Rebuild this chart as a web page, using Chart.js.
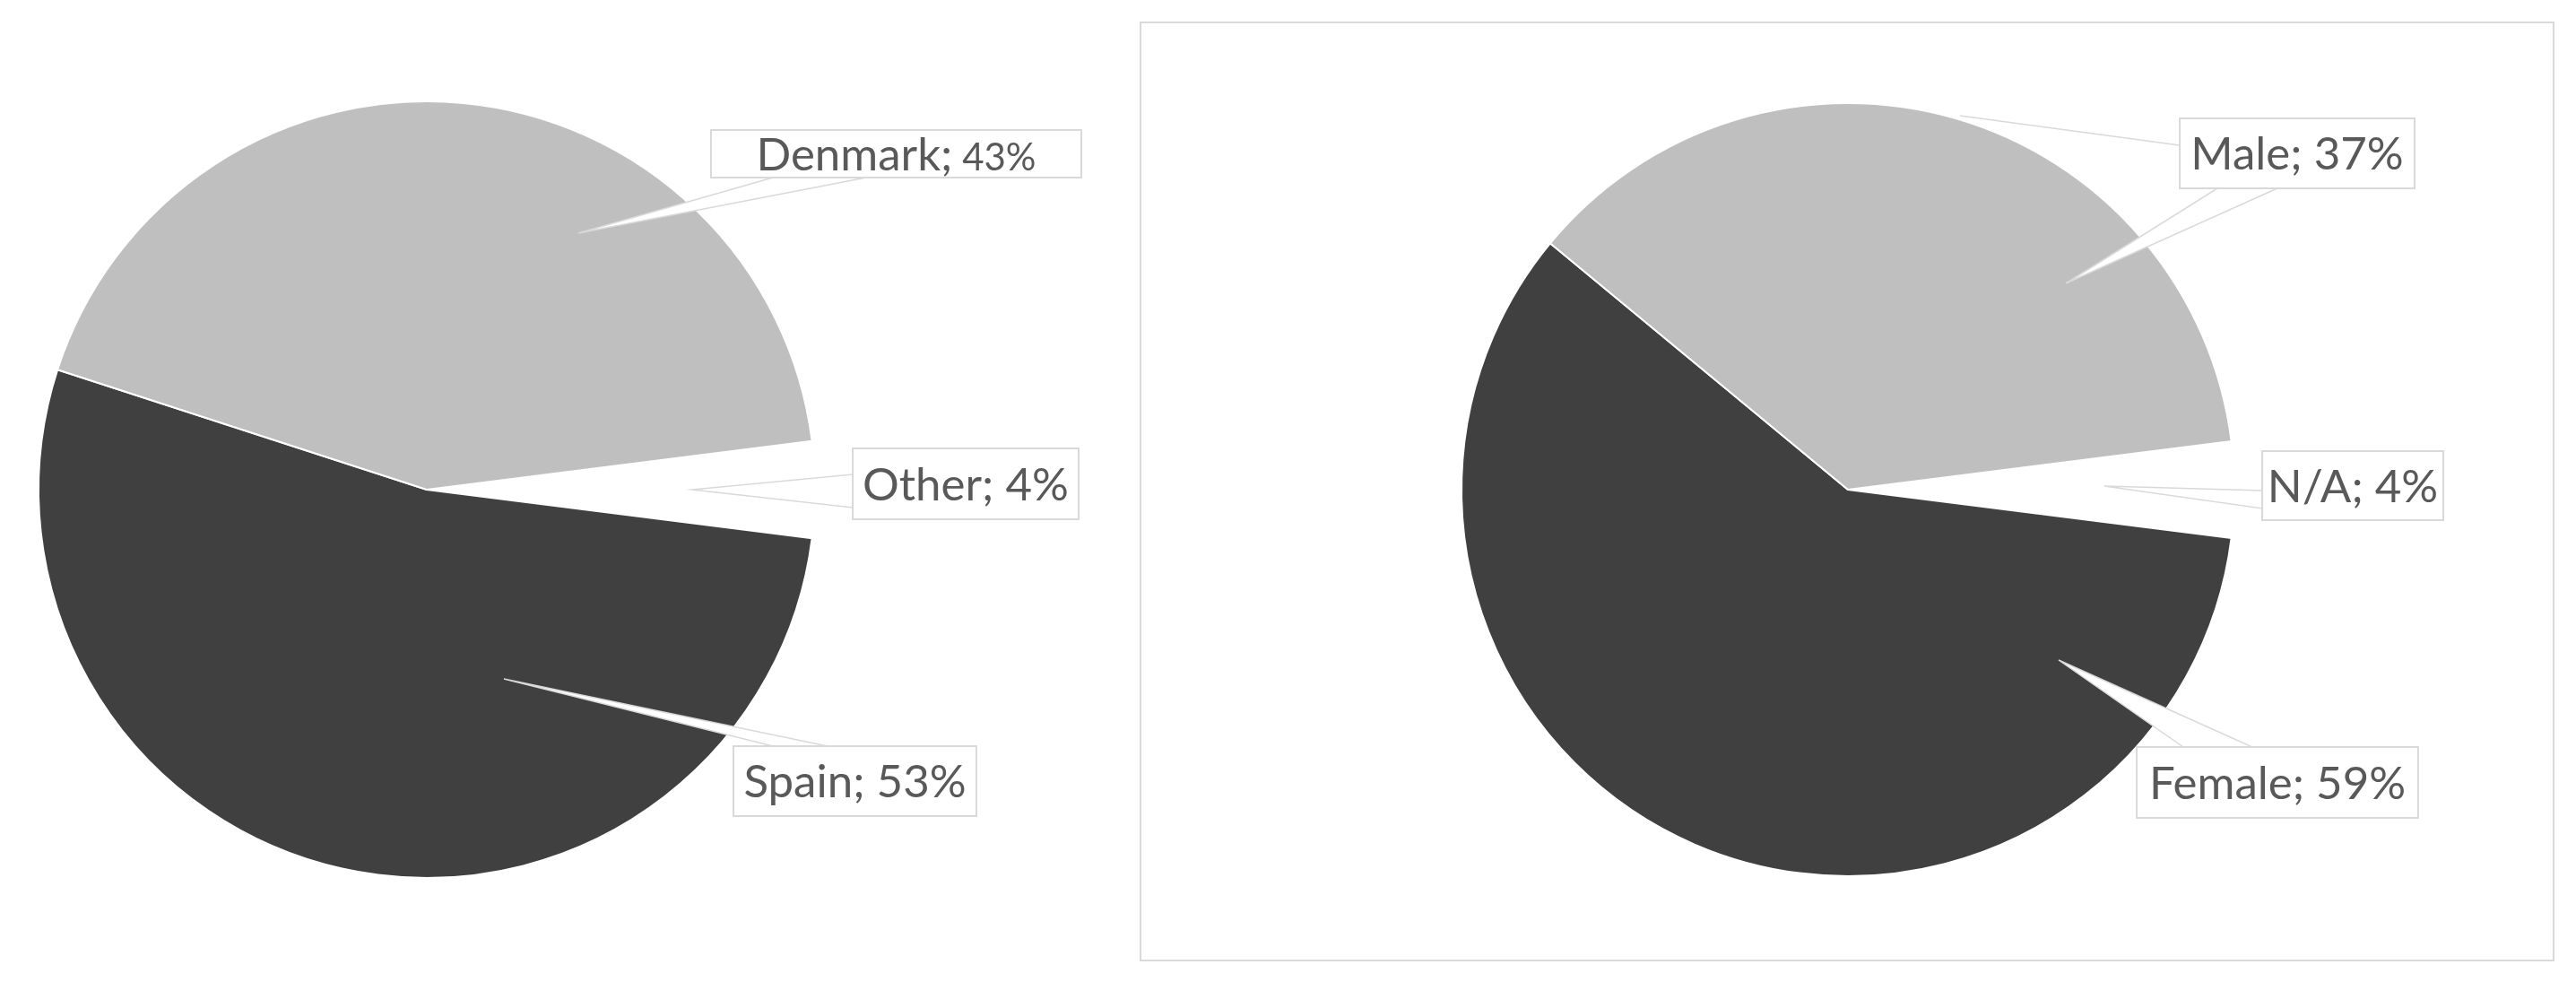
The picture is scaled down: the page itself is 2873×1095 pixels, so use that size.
<!DOCTYPE html>
<html lang="en">
<head>
  <meta charset="UTF-8">
  <title>Country and gender pies</title>
  <script src="https://cdn.jsdelivr.net/npm/chart.js"></script>
  <style>
    body {
      margin: 0;
      padding: 0;
      background-color: #ffffff;
      width: 2873px;
      height: 1095px;
      position: relative;
      overflow: hidden;
    }
    #countryChart {
      position: absolute;
      left: 0;
      top: 0;
    }
    #genderChart {
      position: absolute;
      left: 1271px;
      top: 0;
    }
    .frame {
      position: absolute;
      left: 1271px;
      top: 24px;
      width: 1574px;
      height: 1044px;
      border: 2px solid #d9d9d9;
    }
  </style>
</head>
<body>
  <div class="frame"></div>
  <canvas id="countryChart" width="1271" height="1095"></canvas>
  <canvas id="genderChart" width="1602" height="1095"></canvas>

  <script>
    // Datos
    const countryLabels = ['Other', 'Spain', 'Denmark'];
    const countryShares = [4, 53, 43];
    const genderLabels = ['N/A', 'Female', 'Male'];
    const genderShares = [4, 59, 37];
    const sliceColors = ['#ffffff', '#404040', '#bfbfbf'];

    // Callouts estilo Excel: cuadro + puntero, relativos al centro del pie
    const calloutPlugin = {
      id: 'callouts',
      afterDatasetsDraw(chart, args, opts) {
        const ctx = chart.ctx;
        const arc = chart.getDatasetMeta(0).data[0];
        const cx = arc.x, cy = arc.y;
        const labels = chart.data.labels;
        const values = chart.data.datasets[0].data;
        ctx.save();
        ctx.strokeStyle = '#d9d9d9';

        (opts.lines || []).forEach(l => {
          ctx.lineWidth = 1.5;
          ctx.beginPath();
          ctx.moveTo(cx + l[0], cy + l[1]);
          ctx.lineTo(cx + l[2], cy + l[3]);
          ctx.stroke();
        });

        opts.items.forEach((it, i) => {
          // puntero
          ctx.lineWidth = 1.5;
          ctx.beginPath();
          ctx.moveTo(cx + it.tip[0], cy + it.tip[1]);
          ctx.lineTo(cx + it.base[0][0], cy + it.base[0][1]);
          ctx.lineTo(cx + it.base[1][0], cy + it.base[1][1]);
          ctx.closePath();
          ctx.fillStyle = '#ffffff';
          ctx.fill();
          ctx.stroke();

          // cuadro
          const x0 = cx + it.box[0], y0 = cy + it.box[1];
          const w = it.box[2] - it.box[0], h = it.box[3] - it.box[1];
          ctx.lineWidth = 2;
          ctx.fillRect(x0, y0, w, h);
          ctx.strokeRect(x0, y0, w, h);

          // texto
          const size = opts.fontSize;
          const small = it.valueSize || size;
          const part1 = labels[i] + ';';
          const part2 = ' ' + values[i] + '%';
          ctx.font = size + 'px Lato, "Open Sans", sans-serif';
          const w1 = ctx.measureText(part1).width;
          ctx.font = small + 'px Lato, "Open Sans", sans-serif';
          const w2 = ctx.measureText(part2).width;
          const startX = x0 + (w - w1 - w2) / 2;
          const baseY = y0 + h / 2 + size * 0.36;
          ctx.fillStyle = '#595959';
          ctx.textBaseline = 'alphabetic';
          ctx.textAlign = 'left';
          ctx.font = size + 'px Lato, "Open Sans", sans-serif';
          ctx.fillText(part1, startX, baseY);
          ctx.font = small + 'px Lato, "Open Sans", sans-serif';
          ctx.fillText(part2, startX + w1, baseY);
        });
        ctx.restore();
      }
    };

    const createPie = (canvas, labels, values, padding, callouts) => {
      return new Chart(canvas, {
        type: 'pie',
        data: {
          labels: labels,
          datasets: [{
            data: values,
            backgroundColor: sliceColors,
            borderColor: '#ffffff',
            borderWidth: 2
          }]
        },
        options: {
          responsive: false,
          animation: false,
          rotation: 82.8,
          layout: { padding: padding },
          plugins: {
            legend: { display: false },
            tooltip: { enabled: false },
            callouts: callouts
          }
        },
        plugins: [calloutPlugin]
      });
    };

    createPie(document.getElementById('countryChart'), countryLabels, countryShares,
      { left: 42, right: 361, top: 112, bottom: 115 },
      {
        fontSize: 51,
        items: [
          { box: [475, -46, 727, 33], tip: [296, 0], base: [[475, -17], [475, 20]] },
          { box: [342, 286, 613, 364], tip: [86, 211], base: [[386, 286], [447, 286]] },
          { box: [317, -401, 730, -348], tip: [169, -286], base: [[386, -348], [490, -348]], valueSize: 42 }
        ]
      });

    createPie(document.getElementById('genderChart'), genderLabels, genderShares,
      { left: 358, right: 380, top: 114, bottom: 117 },
      {
        fontSize: 51,
        lines: [[125, -417, 370, -384]],
        items: [
          { box: [462, -43, 664, 34], tip: [286, -4], base: [[462, 1], [462, 21]] },
          { box: [322, 287, 636, 366], tip: [235, 190], base: [[374, 287], [451, 287]] },
          { box: [370, -414, 632, -336], tip: [243, -230], base: [[412, -336], [479, -336]] }
        ]
      });
  </script>
</body>
</html>
